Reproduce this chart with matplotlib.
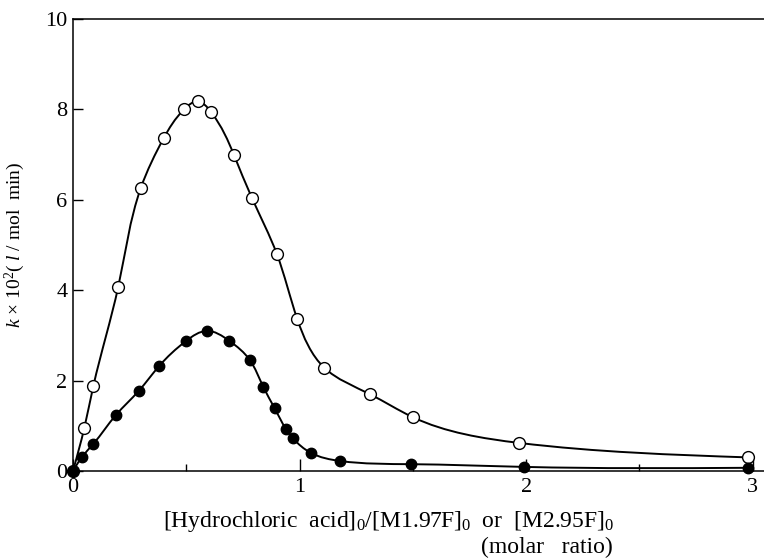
import numpy as np
import matplotlib
matplotlib.use("Agg")
import matplotlib.pyplot as plt
from matplotlib.ticker import MultipleLocator
from matplotlib.path import Path
from matplotlib.patches import PathPatch

# open circles (M1.97F)
x_open = [0.0, 0.05, 0.09, 0.20, 0.30, 0.40, 0.49, 0.55, 0.61, 0.71, 0.79,
          0.90, 0.99, 1.11, 1.31, 1.50, 1.97, 2.98]
y_open = [0.0, 0.95, 1.88, 4.08, 6.27, 7.36, 8.00, 8.18, 7.94, 7.00, 6.04,
          4.80, 3.36, 2.28, 1.70, 1.19, 0.62, 0.30]

# filled circles (M2.95F)
x_fill = [0.0, 0.04, 0.09, 0.19, 0.29, 0.38, 0.50, 0.59, 0.69, 0.78, 0.84,
          0.89, 0.94, 0.97, 1.05, 1.18, 1.49, 1.99, 2.98]
y_fill = [0.0, 0.31, 0.60, 1.24, 1.77, 2.32, 2.88, 3.10, 2.88, 2.46, 1.86,
          1.39, 0.93, 0.73, 0.40, 0.22, 0.15, 0.09, 0.07]

plt.rcParams['font.family'] = ['Liberation Serif', 'DejaVu Serif']
plt.rcParams['mathtext.fontset'] = 'custom'
plt.rcParams['mathtext.rm'] = 'Liberation Serif'
plt.rcParams['mathtext.it'] = 'Liberation Serif:italic'


def smooth_path(x, y, sx=226.0, sy=45.0):
    # bezier path through the data points, tangents of a natural C2 spline
    # (chord length parameter, screen-like scaling)
    p = np.column_stack([np.asarray(x) * sx, np.asarray(y) * sy])
    n = len(p)
    h = np.hypot(*np.diff(p, axis=0).T)
    A = np.zeros((n, n))
    b = np.zeros((n, 2))
    A[0, 0], A[0, 1] = 2, 1
    b[0] = 3 * (p[1] - p[0]) / h[0]
    A[-1, -2], A[-1, -1] = 1, 2
    b[-1] = 3 * (p[-1] - p[-2]) / h[-1]
    for i in range(1, n - 1):
        A[i, i - 1] = h[i]
        A[i, i] = 2 * (h[i - 1] + h[i])
        A[i, i + 1] = h[i - 1]
        b[i] = 3 * (h[i] * (p[i] - p[i - 1]) / h[i - 1]
                    + h[i - 1] * (p[i + 1] - p[i]) / h[i])
    D = np.linalg.solve(A, b)
    verts = [p[0]]
    codes = [Path.MOVETO]
    for i in range(n - 1):
        verts += [p[i] + D[i] * h[i] / 3, p[i + 1] - D[i + 1] * h[i] / 3,
                  p[i + 1]]
        codes += [Path.CURVE4] * 3
    verts = np.array(verts) / np.array([sx, sy])
    return Path(verts, codes)


def plot():
    fig = plt.figure(figsize=(7.64, 5.6), dpi=100)
    ax = fig.add_axes([0.0955, 0.159, 0.9045, 0.807])

    # curves
    for xs, ys in [(x_open, y_open), (x_fill, y_fill)]:
        ax.add_patch(PathPatch(smooth_path(xs, ys), fc="none", ec="black",
                               lw=1.4, zorder=2))
    # markers
    ax.plot(x_open, y_open, "o", ms=8.5, mfc="white", mec="black", mew=1.0,
            zorder=3, clip_on=False)
    ax.plot(x_fill, y_fill, "o", ms=7.5, mfc="black", mec="black", mew=1.0,
            zorder=4, clip_on=False)

    ax.set_xlim(0, 3.05)
    ax.set_ylim(0, 10)
    ax.spines['right'].set_visible(False)
    for s in ['left', 'bottom', 'top']:
        ax.spines[s].set_linewidth(1.1)

    ax.xaxis.set_major_locator(MultipleLocator(1))
    ax.xaxis.set_minor_locator(MultipleLocator(0.5))
    ax.yaxis.set_major_locator(MultipleLocator(2))
    ax.tick_params(axis='x', which='major', direction='in', length=9,
                   width=1, labelsize=16, pad=5)
    ax.tick_params(axis='x', which='minor', direction='in', length=5, width=1)
    ax.tick_params(axis='y', which='major', direction='in', length=7,
                   width=1, labelsize=16, pad=4)
    ax.tick_params(top=False, right=False)

    ax.set_ylabel(r'$k$ $\times$ 10$^2$( $l$ / mol  min)', fontsize=14)
    ax.yaxis.set_label_coords(-0.067, 0.50)

    fig.text(0.509, 0.068,
             r'[Hydrochloric  acid]$_0$/[M1.97F]$_0$  or  [M2.95F]$_0$',
             fontsize=17, ha='center', va='center')
    fig.text(0.802, 0.022, '(molar   ratio)', fontsize=17,
             ha='right', va='center')

    fig.savefig("out.png", dpi=100)


if __name__ == '__main__':
    plot()
